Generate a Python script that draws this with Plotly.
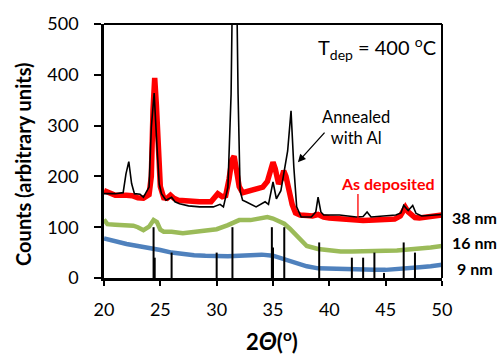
import plotly.graph_objects as go

# ---------------- data ----------------
blue_x = [20, 21, 22, 23, 24, 25, 26, 27, 28, 29, 30, 31, 32, 33, 34, 35, 36, 37, 38, 39, 40,
          41, 42, 43, 44, 45, 46, 47, 48, 49, 50]
blue_y = [78, 72, 67, 63, 60, 55, 50, 47, 45, 44, 43, 43, 44, 46, 46, 44, 37, 29, 23, 19, 18,
          17, 17, 16, 16, 16, 17, 19, 21, 23, 26]

green_x = [20, 20.3, 21, 22, 22.6, 23, 23.5, 24, 24.4, 24.7, 25, 25.3, 26, 27, 28, 29, 30, 31,
           31.5, 32, 33, 34, 34.5, 35, 35.5, 36, 36.5, 37, 37.5, 38, 39, 40, 41, 42, 43, 44,
           45, 46, 47, 48, 49, 50]
green_y = [115, 106, 105, 104, 103, 100, 94, 101, 114, 110, 95, 91, 91, 88, 90, 93, 96, 104,
           110, 114, 114, 118, 120, 117, 113, 107, 97, 85, 73, 63, 57, 54, 52, 52, 52, 52,
           52, 54, 56, 57, 60, 63]

red_x = [20, 20.5, 21, 22, 22.5, 23, 23.5, 24, 24.2, 24.35, 24.5, 24.65, 24.8, 25, 25.3, 25.6,
         25.9, 26.2, 26.6, 27.5, 28.5, 29.5, 30.1, 30.5, 30.8, 31.1, 31.35, 31.55, 31.75, 32.0,
         32.3, 32.6, 33, 33.5, 34.1, 34.5, 34.8, 35.0, 35.2, 35.5, 35.75, 35.95, 36.15, 36.4,
         36.7, 37, 37.4, 38, 38.5, 39, 39.5, 40, 41, 42, 43, 44, 45, 45.8, 46.3, 46.55, 46.75,
         47.0, 47.3, 47.6, 48, 49, 50]
red_y = [172, 166, 163, 163, 162, 158, 157, 164, 200, 330, 394, 340, 260, 180, 158, 157,
         163, 157, 153, 151, 150, 150, 166, 160, 162, 195, 232, 240, 215, 180,
         168, 170, 172, 175, 179, 190, 215, 228, 215, 185, 195, 211, 200, 175,
         145, 128, 124, 123, 122, 125, 120, 118, 116, 114, 113, 114, 114, 116, 122, 135, 139,
         130, 124, 119, 118, 120, 124]

black_x = [20, 21, 21.7, 21.95, 22.2, 22.45, 22.7, 23.2, 23.5, 24.0, 24.2, 24.45, 24.7, 24.9,
           25.1, 25.5, 26.0, 26.3, 26.7, 27.5, 28.5, 29.7, 30.3, 30.6, 31.0, 31.28, 31.36, 31.58,
           31.82, 31.9, 32.08, 32.3, 32.6, 33.5, 34.3, 34.6, 35.0, 35.3, 35.7, 36.0, 36.3, 36.6,
           36.85, 37.1, 37.5, 38.4, 38.8, 39.0, 39.25, 39.5, 40.9, 42.4, 43.0, 43.35, 43.7,
           45.9, 46.35, 46.6, 47.0, 47.4, 47.7, 48.2, 50]
black_y = [166, 166, 168, 205, 229, 186, 166, 165, 159, 179, 296, 364, 260, 185,
           166, 153, 159, 150, 146, 142, 140, 140, 145, 140, 179, 362, 500, 700,
           500, 362, 172, 153, 150, 140, 150, 145, 189, 156, 172, 211, 250, 329,
           218, 140, 120, 120, 130, 159, 130, 124, 124, 120, 121, 130, 120,
           124, 128, 143, 133, 143, 127, 122, 125]

stick_pos = [24.4, 24.5, 26.0, 30.0, 31.4, 34.9, 35.0, 36.0, 39.1, 42.0, 43.0, 44.0, 44.85,
             46.6, 47.6]
stick_h = [100, 40, 50, 50, 100, 100, 60, 100, 70, 40, 40, 50, 10, 70, 50]

x_ticks = [20, 25, 30, 35, 40, 45, 50]
y_ticks = [0, 100, 200, 300, 400, 500]
thickness_labels = ["38 nm", "16 nm", "9 nm"]
thickness_y = [120, 70, 18]

FONT = "Lato"

# ---------------- figure ----------------
fig = go.Figure()
fig.add_trace(go.Scatter(x=blue_x, y=blue_y, mode="lines",
                         line=dict(color="#4f81bd", width=4.5), showlegend=False))
fig.add_trace(go.Scatter(x=green_x, y=green_y, mode="lines",
                         line=dict(color="#9bbb59", width=4.5), showlegend=False))

sx, sy = [], []
for p, h in zip(stick_pos, stick_h):
    sx += [p, p, None]
    sy += [0, h, None]
fig.add_trace(go.Scatter(x=sx, y=sy, mode="lines",
                         line=dict(color="black", width=2), showlegend=False))

fig.add_trace(go.Scatter(x=red_x, y=red_y, mode="lines",
                         line=dict(color="#ff0000", width=5.5), showlegend=False))
fig.add_trace(go.Scatter(x=black_x, y=black_y, mode="lines",
                         line=dict(color="black", width=1.6), showlegend=False))

C = dict(xanchor="center", yanchor="middle")
annotations = [
    dict(x=44.25, y=452, xref="x", yref="y", showarrow=False, **C,
         text="T<sub>dep</sub> = 400 <sup>o</sup>C", font=dict(size=20, color="black", family=FONT)),
    dict(x=42.4, y=297, xref="x", yref="y", showarrow=False, **C,
         text="Annealed<br>with Al", font=dict(size=16.5, color="black", family=FONT)),
    dict(x=37.21, y=228, xref="x", yref="y", text="", showarrow=True,
         ax=28, ay=-31, arrowhead=2, arrowsize=1.2, arrowwidth=1.3, arrowcolor="black"),
    dict(x=45.17, y=186, xref="x", yref="y", showarrow=False, **C,
         text="<b>As deposited</b>", font=dict(size=16, color="#ff0000", family=FONT)),
    dict(x=42.54, y=113, xref="x", yref="y", text="", showarrow=True,
         ax=0, ay=-28, arrowhead=0, arrowwidth=1.3, arrowcolor="#ff0000"),
    dict(x=-0.2376, y=0.448, xref="paper", yref="paper", showarrow=False, textangle=-90, **C,
         text="<b>Counts (arbitrary units)</b>", font=dict(size=20, color="black", family=FONT)),
    dict(x=0.498, y=-0.2477, xref="paper", yref="paper", showarrow=False, **C,
         text="<b>2<span style='font-size:24px'><i>Θ</i></span>(<sup>o</sup>)</b>",
         font=dict(size=22, color="black", family=FONT)),
]
for lab, yy in zip(thickness_labels, thickness_y):
    annotations.append(dict(x=1.097, y=yy, xref="paper", yref="y", showarrow=False, **C,
                            text="<b>" + lab + "</b>",
                            font=dict(size=16, color="black", family=FONT)))

fig.update_layout(
    width=500, height=355,
    margin=dict(l=104, r=58, t=22, b=77),
    paper_bgcolor="white", plot_bgcolor="white",
    font=dict(family=FONT, size=18, color="black"),
    annotations=annotations,
    shapes=[
        dict(type="line", xref="paper", yref="paper", x0=0, x1=1, y0=1, y1=1,
             line=dict(color="black", width=2)),
        dict(type="line", xref="paper", yref="paper", x0=1, x1=1, y0=0, y1=1,
             line=dict(color="black", width=2)),
    ],
)
fig.update_xaxes(range=[20, 50], tickvals=x_ticks, showgrid=False, zeroline=False,
                 showline=True, linecolor="black", linewidth=3,
                 ticks="outside", ticklen=5, tickwidth=2, tickcolor="black",
                 tickfont=dict(size=18, family=FONT, color="black"), ticklabelstandoff=8)
fig.update_yaxes(range=[0, 500], tickvals=y_ticks, showgrid=False, zeroline=False,
                 showline=True, linecolor="black", linewidth=2.5,
                 ticks="outside", ticklen=7, tickwidth=2, tickcolor="black",
                 tickfont=dict(size=18, family=FONT, color="black"), ticklabelstandoff=12)

fig.write_html("out.html", config={"displayModeBar": False},
               post_script="document.body.style.margin='0';")
